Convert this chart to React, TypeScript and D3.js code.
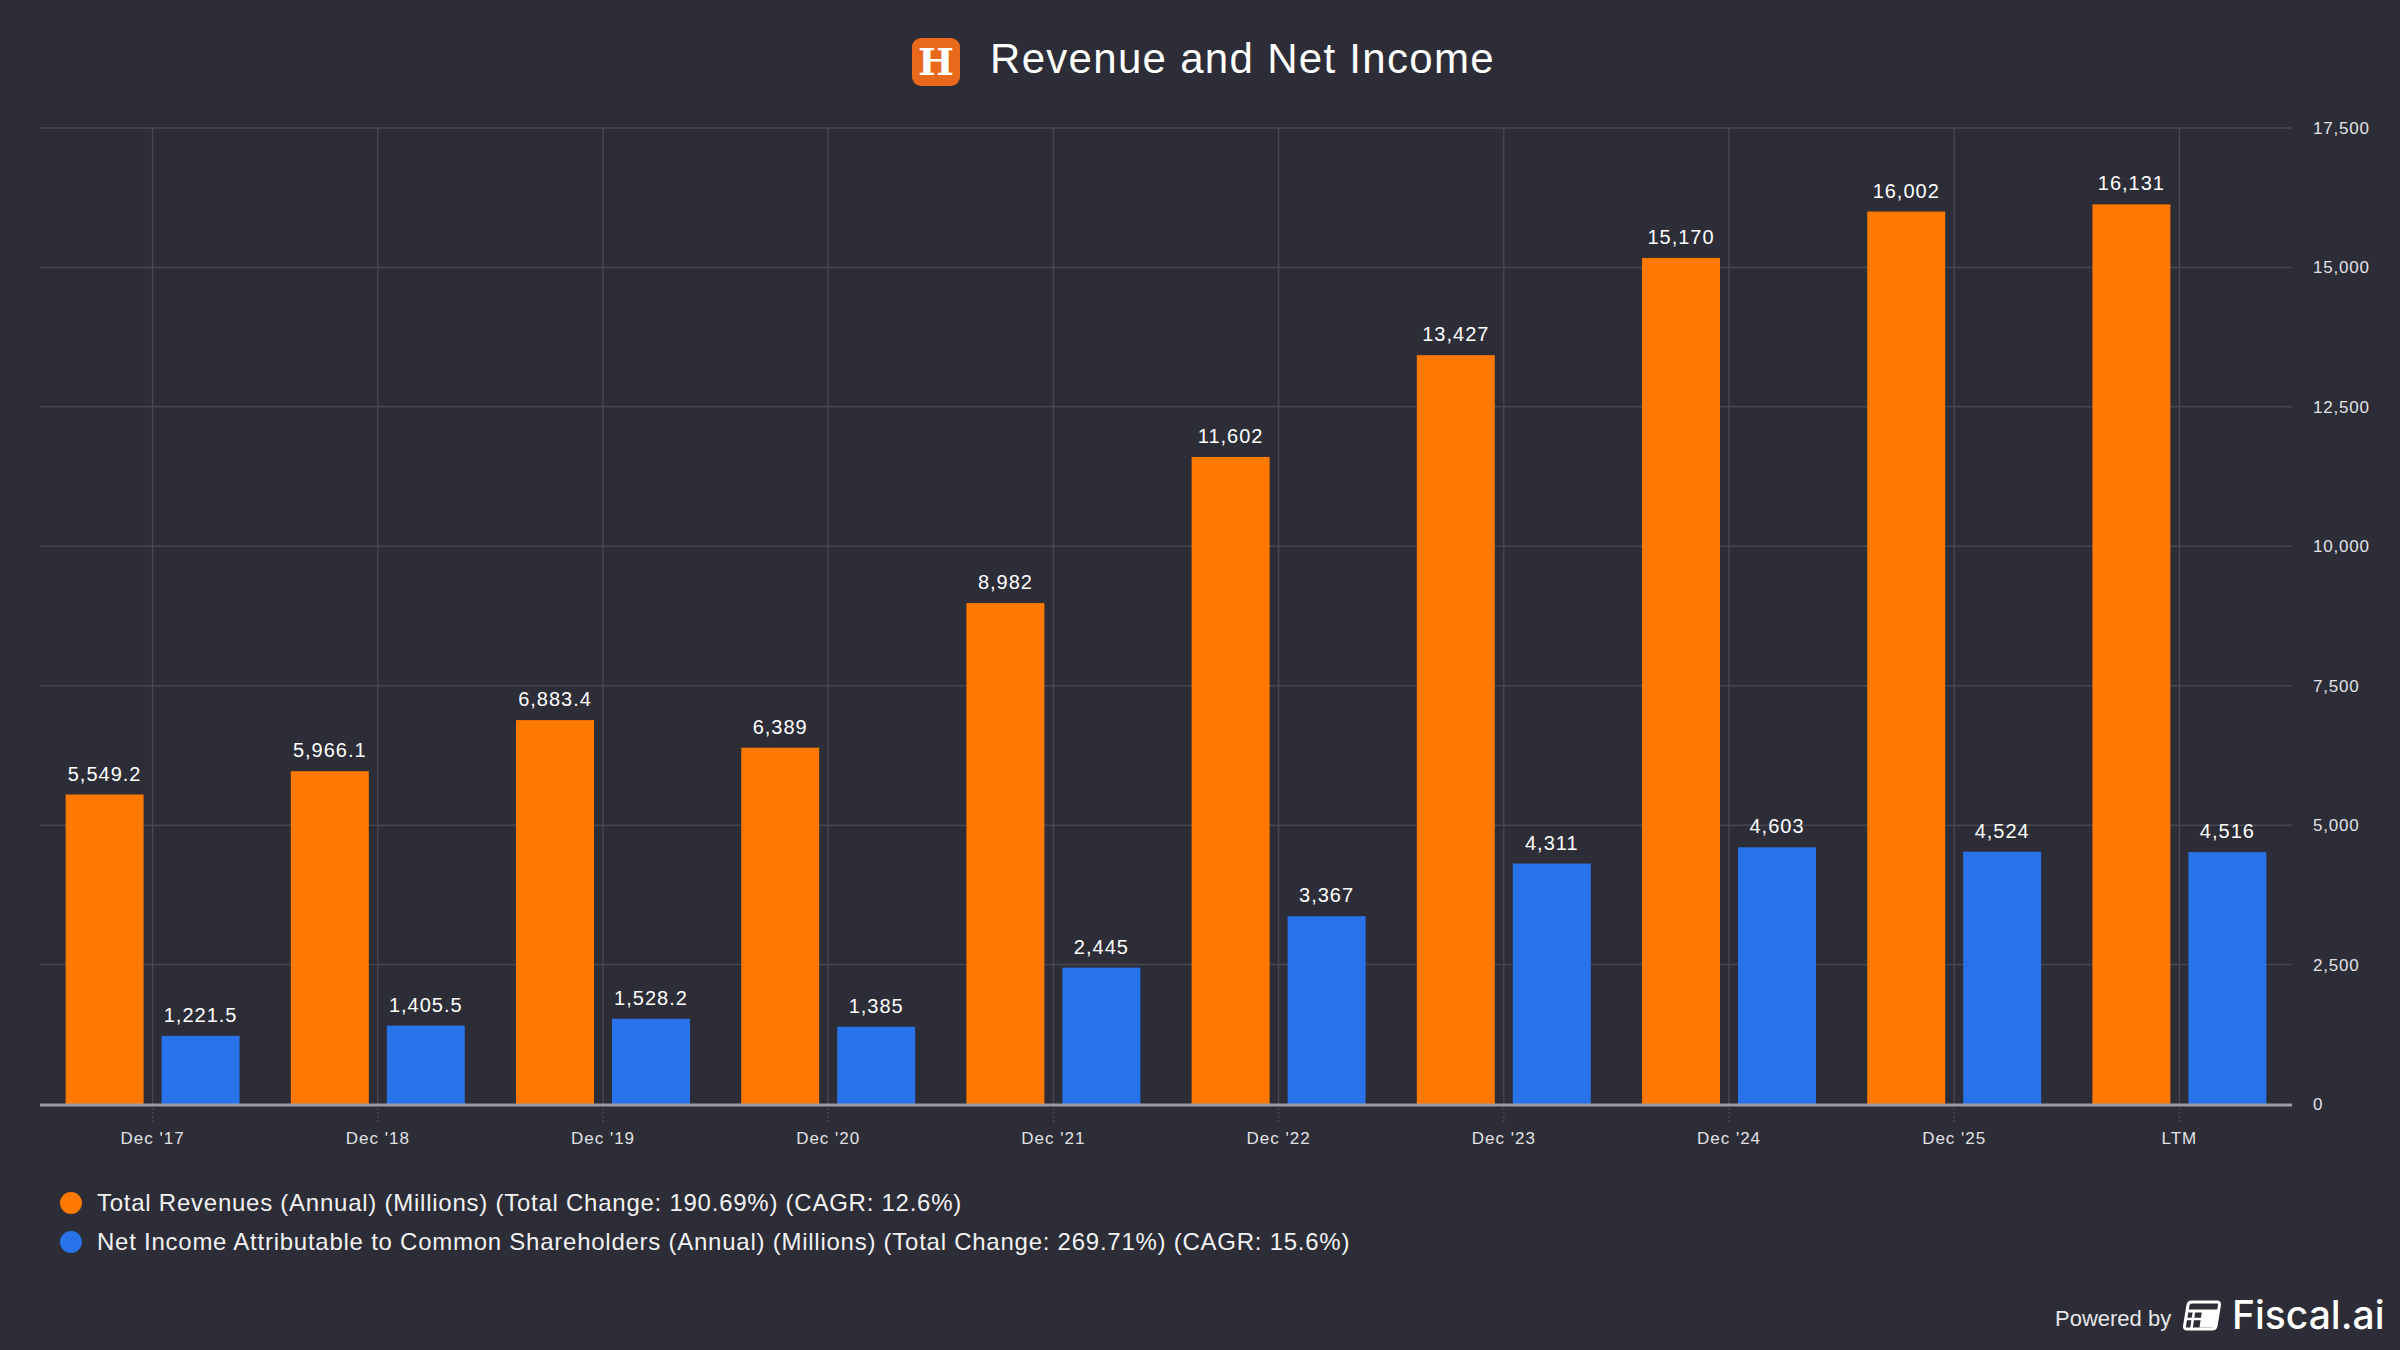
import React from "react";
import * as d3 from "d3";

const categories = ["Dec '17", "Dec '18", "Dec '19", "Dec '20", "Dec '21", "Dec '22", "Dec '23", "Dec '24", "Dec '25", "LTM"];
const revenue = [5549.2, 5966.1, 6883.4, 6389, 8982, 11602, 13427, 15170, 16002, 16131];
const netIncome = [1221.5, 1405.5, 1528.2, 1385, 2445, 3367, 4311, 4603, 4524, 4516];
const labelDecimals = [1, 1, 1, 0, 0, 0, 0, 0, 0, 0];
const yTicks = [0, 2500, 5000, 7500, 10000, 12500, 15000, 17500];
const seriesKeys = ["rev", "ni"];
const seriesColors = ["#FF7800", "#2873EA"];
const legendLabels = [
  "Total Revenues (Annual) (Millions) (Total Change: 190.69%) (CAGR: 12.6%)",
  "Net Income Attributable to Common Shareholders (Annual) (Millions) (Total Change: 269.71%) (CAGR: 15.6%)",
];

const W = 2400;
const H = 1350;
const BG = "#2c2d36";
const FONT = "'Liberation Sans', Arial, Helvetica, sans-serif";

export default function App() {
  const x = d3.scaleBand<string>().domain(categories).range([40, 2292]).paddingInner(0).paddingOuter(0);
  const xi = d3.scaleBand<string>().domain(seriesKeys).range([0, x.bandwidth()]).paddingInner(0.1875).paddingOuter(0.267);
  const y = d3.scaleLinear().domain([0, 17500]).range([1104, 128]);
  const series = [revenue, netIncome];
  const fmt = (v: number, d: number) => d3.format(d === 1 ? ",.1f" : ",.0f")(v);

  return (
    <svg width={W} height={H} style={{ position: "absolute", left: 0, top: 0, background: BG }} fontFamily={FONT}>
      <rect x={0} y={0} width={W} height={H} fill={BG} />
      {/* Title */}
      <g>
        <rect x={912} y={38} width={48} height={48} rx={9} fill="#E9691C" />
        <text x={936} y={75} textAnchor="middle" fontFamily="'DejaVu Serif', serif" fontWeight="bold" fontSize={38} fill="#fff">H</text>
        <text x={990} y={73} fontSize={42} letterSpacing={1.3} fill="#ffffff">Revenue and Net Income</text>
      </g>
      {/* Horizontal gridlines */}
      {yTicks.map((t) => (
        <g key={t}>
          {t > 0 && <line x1={40} x2={2292} y1={y(t)} y2={y(t)} stroke="#464751" strokeWidth={1.5} />}
          <text x={2313} y={y(t)} dy="0.35em" fontSize={17} letterSpacing={0.8} fill="#e2e2e6">{d3.format(",")(t)}</text>
        </g>
      ))}
      {/* Vertical gridlines */}
      {categories.map((c) => {
        const cx = (x(c) as number) + x.bandwidth() / 2;
        return (
          <g key={c}>
            <line x1={cx} x2={cx} y1={128} y2={1104} stroke="#464751" strokeWidth={1.5} />
            <line x1={cx} x2={cx} y1={1104} y2={1122} stroke="#464751" strokeWidth={1.5} strokeDasharray="2,2" />
            <text x={cx} y={1144} textAnchor="middle" fontSize={17} letterSpacing={1} fill="#e2e2e6">{c}</text>
          </g>
        );
      })}
      {/* Bars */}
      {series.map((vals, si) => (
        <g key={seriesKeys[si]}>
          {vals.map((v, i) => {
            const bx = (x(categories[i]) as number) + (xi(seriesKeys[si]) as number);
            return (
              <g key={i}>
                <rect x={bx} y={y(v)} width={xi.bandwidth()} height={y(0) - y(v)} fill={seriesColors[si]} />
                <text x={bx + xi.bandwidth() / 2} y={y(v) - 14} textAnchor="middle" fontSize={20} letterSpacing={1} fill="#ffffff">
                  {fmt(v, labelDecimals[i])}
                </text>
              </g>
            );
          })}
        </g>
      ))}
      {/* Baseline */}
      <line x1={40} x2={2292} y1={y(0) + 1} y2={y(0) + 1} stroke="#9b9ba3" strokeWidth={3} />
      {/* Legend */}
      {legendLabels.map((l, i) => (
        <g key={l}>
          <circle cx={71} cy={1203 + i * 39} r={11} fill={seriesColors[i]} />
          <text x={97} y={1203 + i * 39} dy="0.35em" fontSize={24} letterSpacing={0.75} fill="#f2f2f4">{l}</text>
        </g>
      ))}
      {/* Footer */}
      <g>
        <text x={2055} y={1326} fontSize={22} fill="#e6e6ea">Powered by</text>
        <g transform="translate(2183,1300)">
          <path d="M9,2 L34,2 Q37,2 36.5,5 L33,26 Q32.5,29 29,29 L4,29 Q1,29 1.5,26 L5,5 Q5.5,2 9,2 Z" fill="none" stroke="#fff" strokeWidth={3} />
          <line x1={4} y1={11} x2={35} y2={11} stroke="#fff" strokeWidth={3} />
          <path d="M19,11 L34.5,11 L32,27.5 L16.5,27.5 Z" fill="#fff" />
          <line x1={3} y1={19} x2={18} y2={19} stroke="#fff" strokeWidth={2.5} />
          <line x1={11} y1={11} x2={8.5} y2={28} stroke="#fff" strokeWidth={2.5} />
        </g>
        <text x={2232} y={1329} fontSize={39} fontWeight={500} fill="#ffffff" fontFamily="Inter, 'Liberation Sans', sans-serif">Fiscal.ai</text>
      </g>
    </svg>
  );
}
